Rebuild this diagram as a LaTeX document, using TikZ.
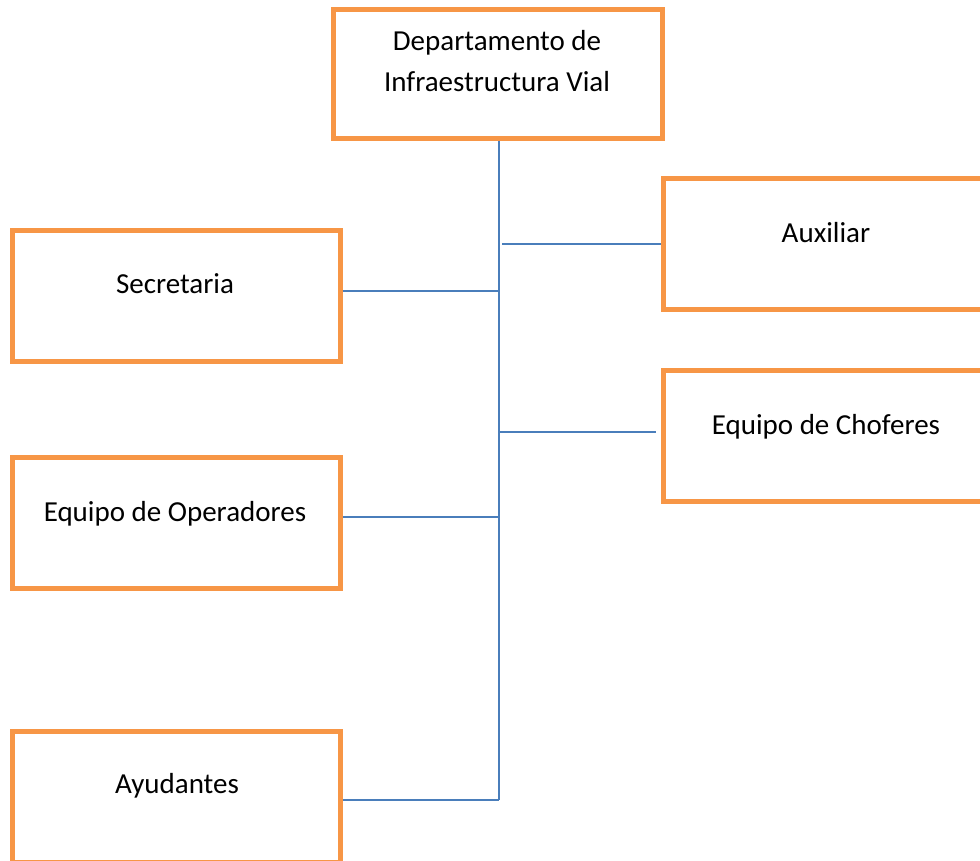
\documentclass[tikz,border=0pt]{standalone}
\usepackage{fontspec}
\setmainfont{Carlito}
\definecolor{boxorange}{HTML}{F79646}
\definecolor{lineblue}{HTML}{4A7EBB}
\begin{document}
\begin{tikzpicture}[x=1pt,y=-1pt,
  orgbox/.style={draw=boxorange,line width=5pt,fill=white,rectangle,inner sep=0pt,
    minimum width=328pt,minimum height=131pt},
  lbl/.style={anchor=base,inner sep=0pt,font=\fontsize{29}{41}\selectfont},
  link/.style={draw=lineblue,line width=1.5pt}]
\useasboundingbox (0,0) rectangle (980,860);
\clip (0,0) rectangle (980,860);
\fill[white] (0,0) rectangle (980,860);
% boxes
\node[orgbox,minimum width=329pt,minimum height=129pt] (dep) at (497.5,73.5) {};
\node[orgbox] (aux) at (827,243.5) {};
\node[orgbox] (cho) at (827,436) {};
\node[orgbox] (sec) at (176,296) {};
\node[orgbox] (ope) at (176,522.5) {};
\node[orgbox] (ayu) at (176,796.5) {};
% labels
\node[lbl] (dep1) at (497,50) {Departamento de};
\node[lbl] (dep2) at (497,91) {Infraestructura Vial};
\node[lbl] (auxt) at (826,242) {Auxiliar};
\node[lbl] (chot) at (826,434) {Equipo de Choferes};
\node[lbl] (sect) at (175,293) {Secretaria};
\node[lbl] (opet) at (175,521) {Equipo de Operadores};
\node[lbl] (ayut) at (177,793) {Ayudantes};
% trunk and junctions
\coordinate (bot) at (499,800);
\coordinate (jaux) at (502,244);
\coordinate (jsec) at (499,291);
\coordinate (jcho) at (499,432);
\coordinate (jope) at (499,517);
\draw[link] (dep.south -| bot) -- (bot);
\draw[link] (jaux) -- (aux.west |- jaux);
\draw[link] (sec.east |- jsec) -- (jsec);
\draw[link] (jcho) -- ([xshift=-5pt]cho.west |- jcho);
\draw[link] (ope.east |- jope) -- (jope);
\draw[link] (ayu.east |- bot) -- (bot);
\end{tikzpicture}
\end{document}
